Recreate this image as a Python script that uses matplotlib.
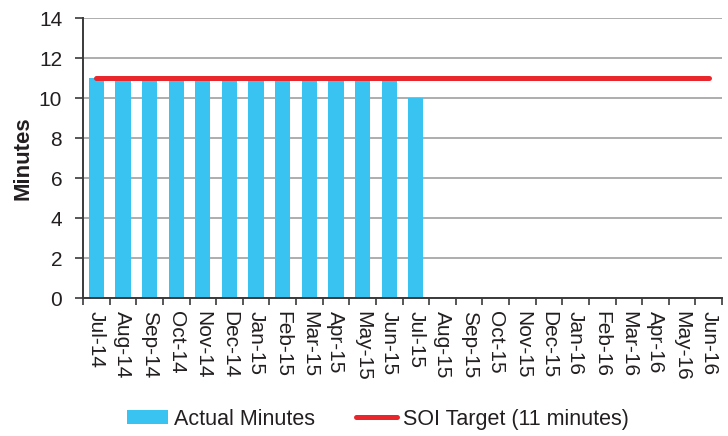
import matplotlib
matplotlib.use("Agg")
import matplotlib.pyplot as plt
from matplotlib.lines import Line2D
from matplotlib.patches import Patch
import numpy as np

plt.rcParams['font.family'] = ['Liberation Sans', 'DejaVu Sans']

months = ["Jul-14", "Aug-14", "Sep-14", "Oct-14", "Nov-14", "Dec-14",
          "Jan-15", "Feb-15", "Mar-15", "Apr-15", "May-15", "Jun-15",
          "Jul-15", "Aug-15", "Sep-15", "Oct-15", "Nov-15", "Dec-15",
          "Jan-16", "Feb-16", "Mar-16", "Apr-16", "May-16", "Jun-16"]
actual = [11, 11, 11, 11, 11, 11, 11, 11, 11, 11, 11, 11, 10]
target = 11

bar_color = "#38C3F0"
line_color = "#E8262B"
text_color = "#231F20"

fig = plt.figure(figsize=(7.28, 4.36), dpi=100)
ax = fig.add_axes([83 / 728, 1 - 298 / 436, (722 - 83) / 728, (298 - 18) / 436])

x = np.arange(len(months))
ax.bar(x[:len(actual)], actual, width=0.57, color=bar_color, zorder=2)
ax.plot([x[0], x[-1]], [target, target], color=line_color, lw=3.6,
        solid_capstyle="round", zorder=3)

ax.set_xlim(-0.5, len(months) - 0.5)
ax.set_ylim(0, 14)
ax.set_yticks(range(0, 15, 2))
ax.yaxis.grid(True, color="#A0A0A0", lw=1.2, zorder=0)
ax.set_axisbelow(True)

ax.set_xticks(x)
ax.set_xticklabels(months, rotation=-90, fontsize=15, color=text_color)
ax.set_xticks(np.arange(-0.5, len(months), 1), minor=True)
ax.tick_params(axis="x", which="major", length=0, pad=9)
ax.tick_params(axis="x", which="minor", length=5, width=1.2, color="#3A3A3A", direction="out")
ax.tick_params(axis="y", labelsize=15, labelcolor=text_color, length=6, width=1.2,
               color="#3A3A3A", direction="out", pad=9)

for s in ("top", "right"):
    ax.spines[s].set_visible(False)
for s in ("left", "bottom"):
    ax.spines[s].set_color("#3A3A3A")
    ax.spines[s].set_linewidth(1.4)

ax.set_ylabel("Minutes", fontsize=16, fontweight="bold", color=text_color, labelpad=4)

handles = [Patch(facecolor=bar_color, edgecolor="none"),
           Line2D([0], [0], color=line_color, lw=3.6, solid_capstyle="round")]
fig.legend(handles, ["Actual Minutes", "SOI Target (11 minutes)"],
           loc="center", bbox_to_anchor=(378 / 728, 1 - 419 / 436), ncol=2,
           frameon=False, fontsize=15.5, handlelength=1.9, handleheight=0.6,
           columnspacing=1.9, handletextpad=0.3, labelcolor=text_color)

fig.savefig("out.png", dpi=100)
